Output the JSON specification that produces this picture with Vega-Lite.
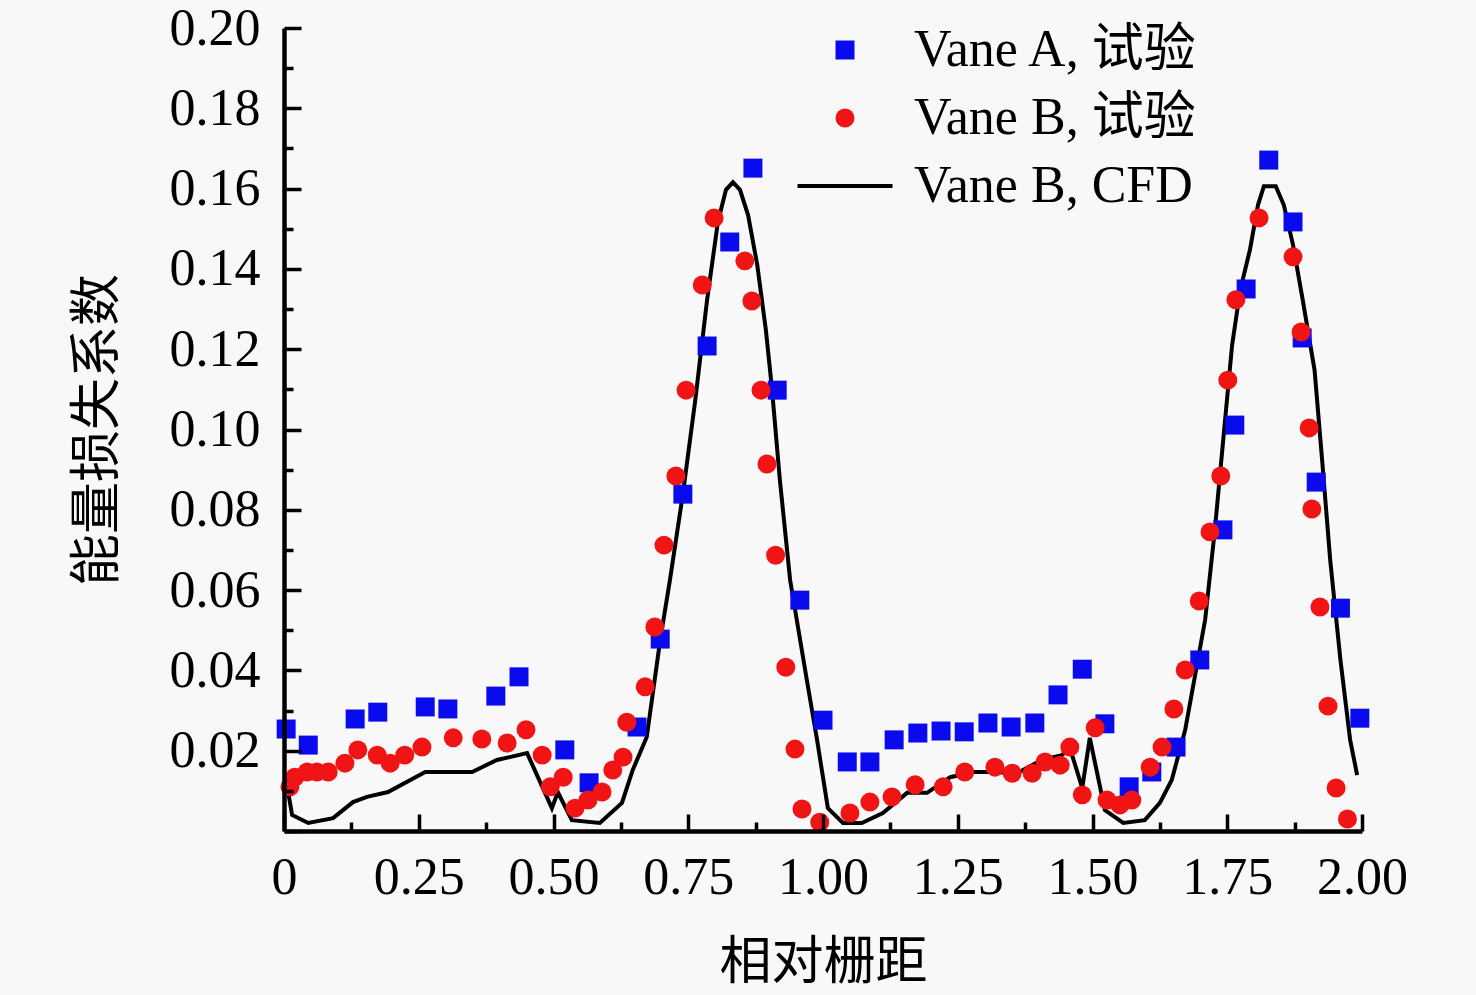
{
  "$schema": "https://vega.github.io/schema/vega-lite/v6.json",
  "width": 1078,
  "height": 803,
  "autosize": "none",
  "padding": {"left": 284, "top": 28, "right": 114, "bottom": 164},
  "background": "#f8f8f8",
  "config": {
    "view": {"stroke": null},
    "font": "Liberation Serif"
  },
  "data": {
    "values": [
      {"series": "Vane A, 试验", "x": 0.004, "y": 0.0254},
      {"series": "Vane A, 试验", "x": 0.045, "y": 0.0214},
      {"series": "Vane A, 试验", "x": 0.132, "y": 0.0279},
      {"series": "Vane A, 试验", "x": 0.174, "y": 0.0296},
      {"series": "Vane A, 试验", "x": 0.262, "y": 0.0309},
      {"series": "Vane A, 试验", "x": 0.304, "y": 0.0304},
      {"series": "Vane A, 试验", "x": 0.393, "y": 0.0336},
      {"series": "Vane A, 试验", "x": 0.436, "y": 0.0384},
      {"series": "Vane A, 试验", "x": 0.521, "y": 0.0202},
      {"series": "Vane A, 试验", "x": 0.566, "y": 0.0120},
      {"series": "Vane A, 试验", "x": 0.655, "y": 0.0259},
      {"series": "Vane A, 试验", "x": 0.698, "y": 0.0478},
      {"series": "Vane A, 试验", "x": 0.740, "y": 0.0839},
      {"series": "Vane A, 试验", "x": 0.785, "y": 0.1208},
      {"series": "Vane A, 试验", "x": 0.827, "y": 0.1467},
      {"series": "Vane A, 试验", "x": 0.870, "y": 0.1651},
      {"series": "Vane A, 试验", "x": 0.915, "y": 0.1098},
      {"series": "Vane A, 试验", "x": 0.957, "y": 0.0575},
      {"series": "Vane A, 试验", "x": 1.000, "y": 0.0276},
      {"series": "Vane A, 试验", "x": 1.045, "y": 0.0172},
      {"series": "Vane A, 试验", "x": 1.087, "y": 0.0172},
      {"series": "Vane A, 试验", "x": 1.132, "y": 0.0227},
      {"series": "Vane A, 试验", "x": 1.176, "y": 0.0244},
      {"series": "Vane A, 试验", "x": 1.219, "y": 0.0249},
      {"series": "Vane A, 试验", "x": 1.262, "y": 0.0247},
      {"series": "Vane A, 试验", "x": 1.306, "y": 0.0269},
      {"series": "Vane A, 试验", "x": 1.349, "y": 0.0259},
      {"series": "Vane A, 试验", "x": 1.393, "y": 0.0269},
      {"series": "Vane A, 试验", "x": 1.436, "y": 0.0339},
      {"series": "Vane A, 试验", "x": 1.481, "y": 0.0403},
      {"series": "Vane A, 试验", "x": 1.523, "y": 0.0267},
      {"series": "Vane A, 试验", "x": 1.568, "y": 0.0110},
      {"series": "Vane A, 试验", "x": 1.610, "y": 0.0147},
      {"series": "Vane A, 试验", "x": 1.655, "y": 0.0209},
      {"series": "Vane A, 试验", "x": 1.699, "y": 0.0426},
      {"series": "Vane A, 试验", "x": 1.742, "y": 0.0750},
      {"series": "Vane A, 试验", "x": 1.764, "y": 0.1011},
      {"series": "Vane A, 试验", "x": 1.785, "y": 0.1350},
      {"series": "Vane A, 试验", "x": 1.827, "y": 0.1671},
      {"series": "Vane A, 试验", "x": 1.872, "y": 0.1517},
      {"series": "Vane A, 试验", "x": 1.889, "y": 0.1228},
      {"series": "Vane A, 试验", "x": 1.915, "y": 0.0869},
      {"series": "Vane A, 试验", "x": 1.960, "y": 0.0555},
      {"series": "Vane A, 试验", "x": 1.996, "y": 0.0281},

      {"series": "Vane B, 试验", "x": 0.011, "y": 0.0110},
      {"series": "Vane B, 试验", "x": 0.020, "y": 0.0134},
      {"series": "Vane B, 试验", "x": 0.043, "y": 0.0147},
      {"series": "Vane B, 试验", "x": 0.061, "y": 0.0147},
      {"series": "Vane B, 试验", "x": 0.082, "y": 0.0147},
      {"series": "Vane B, 试验", "x": 0.113, "y": 0.0169},
      {"series": "Vane B, 试验", "x": 0.137, "y": 0.0202},
      {"series": "Vane B, 试验", "x": 0.173, "y": 0.0189},
      {"series": "Vane B, 试验", "x": 0.197, "y": 0.0169},
      {"series": "Vane B, 试验", "x": 0.224, "y": 0.0189},
      {"series": "Vane B, 试验", "x": 0.256, "y": 0.0209},
      {"series": "Vane B, 试验", "x": 0.314, "y": 0.0232},
      {"series": "Vane B, 试验", "x": 0.367, "y": 0.0229},
      {"series": "Vane B, 试验", "x": 0.414, "y": 0.0219},
      {"series": "Vane B, 试验", "x": 0.449, "y": 0.0252},
      {"series": "Vane B, 试验", "x": 0.479, "y": 0.0189},
      {"series": "Vane B, 试验", "x": 0.494, "y": 0.0110},
      {"series": "Vane B, 试验", "x": 0.518, "y": 0.0134},
      {"series": "Vane B, 试验", "x": 0.540, "y": 0.0057},
      {"series": "Vane B, 试验", "x": 0.564, "y": 0.0077},
      {"series": "Vane B, 试验", "x": 0.590, "y": 0.0097},
      {"series": "Vane B, 试验", "x": 0.610, "y": 0.0152},
      {"series": "Vane B, 试验", "x": 0.629, "y": 0.0184},
      {"series": "Vane B, 试验", "x": 0.636, "y": 0.0271},
      {"series": "Vane B, 试验", "x": 0.670, "y": 0.0359},
      {"series": "Vane B, 试验", "x": 0.688, "y": 0.0508},
      {"series": "Vane B, 试验", "x": 0.705, "y": 0.0712},
      {"series": "Vane B, 试验", "x": 0.727, "y": 0.0884},
      {"series": "Vane B, 试验", "x": 0.746, "y": 0.1098},
      {"series": "Vane B, 试验", "x": 0.776, "y": 0.1360},
      {"series": "Vane B, 试验", "x": 0.798, "y": 0.1527},
      {"series": "Vane B, 试验", "x": 0.855, "y": 0.1420},
      {"series": "Vane B, 试验", "x": 0.868, "y": 0.1320},
      {"series": "Vane B, 试验", "x": 0.885, "y": 0.1098},
      {"series": "Vane B, 试验", "x": 0.896, "y": 0.0914},
      {"series": "Vane B, 试验", "x": 0.912, "y": 0.0687},
      {"series": "Vane B, 试验", "x": 0.931, "y": 0.0408},
      {"series": "Vane B, 试验", "x": 0.948, "y": 0.0204},
      {"series": "Vane B, 试验", "x": 0.961, "y": 0.0055},
      {"series": "Vane B, 试验", "x": 0.994, "y": 0.0022},
      {"series": "Vane B, 试验", "x": 1.050, "y": 0.0045},
      {"series": "Vane B, 试验", "x": 1.087, "y": 0.0072},
      {"series": "Vane B, 试验", "x": 1.128, "y": 0.0085},
      {"series": "Vane B, 试验", "x": 1.171, "y": 0.0115},
      {"series": "Vane B, 试验", "x": 1.223, "y": 0.0110},
      {"series": "Vane B, 试验", "x": 1.263, "y": 0.0147},
      {"series": "Vane B, 试验", "x": 1.319, "y": 0.0159},
      {"series": "Vane B, 试验", "x": 1.351, "y": 0.0144},
      {"series": "Vane B, 试验", "x": 1.388, "y": 0.0144},
      {"series": "Vane B, 试验", "x": 1.412, "y": 0.0172},
      {"series": "Vane B, 试验", "x": 1.440, "y": 0.0164},
      {"series": "Vane B, 试验", "x": 1.458, "y": 0.0209},
      {"series": "Vane B, 试验", "x": 1.481, "y": 0.0090},
      {"series": "Vane B, 试验", "x": 1.505, "y": 0.0257},
      {"series": "Vane B, 试验", "x": 1.527, "y": 0.0077},
      {"series": "Vane B, 试验", "x": 1.551, "y": 0.0065},
      {"series": "Vane B, 试验", "x": 1.573, "y": 0.0077},
      {"series": "Vane B, 试验", "x": 1.607, "y": 0.0159},
      {"series": "Vane B, 试验", "x": 1.629, "y": 0.0209},
      {"series": "Vane B, 试验", "x": 1.651, "y": 0.0304},
      {"series": "Vane B, 试验", "x": 1.672, "y": 0.0401},
      {"series": "Vane B, 试验", "x": 1.698, "y": 0.0573},
      {"series": "Vane B, 试验", "x": 1.718, "y": 0.0745},
      {"series": "Vane B, 试验", "x": 1.738, "y": 0.0884},
      {"series": "Vane B, 试验", "x": 1.751, "y": 0.1123},
      {"series": "Vane B, 试验", "x": 1.766, "y": 0.1323},
      {"series": "Vane B, 试验", "x": 1.809, "y": 0.1527},
      {"series": "Vane B, 试验", "x": 1.872, "y": 0.1430},
      {"series": "Vane B, 试验", "x": 1.887, "y": 0.1243},
      {"series": "Vane B, 试验", "x": 1.902, "y": 0.1004},
      {"series": "Vane B, 试验", "x": 1.907, "y": 0.0802},
      {"series": "Vane B, 试验", "x": 1.922, "y": 0.0558},
      {"series": "Vane B, 试验", "x": 1.937, "y": 0.0311},
      {"series": "Vane B, 试验", "x": 1.952, "y": 0.0107},
      {"series": "Vane B, 试验", "x": 1.973, "y": 0.0030},

      {"series": "Vane B, CFD", "x": 0.000, "y": 0.0120},
      {"series": "Vane B, CFD", "x": 0.006, "y": 0.0110},
      {"series": "Vane B, CFD", "x": 0.015, "y": 0.0040},
      {"series": "Vane B, CFD", "x": 0.045, "y": 0.0020},
      {"series": "Vane B, CFD", "x": 0.091, "y": 0.0032},
      {"series": "Vane B, CFD", "x": 0.128, "y": 0.0072},
      {"series": "Vane B, CFD", "x": 0.154, "y": 0.0085},
      {"series": "Vane B, CFD", "x": 0.193, "y": 0.0097},
      {"series": "Vane B, CFD", "x": 0.262, "y": 0.0147},
      {"series": "Vane B, CFD", "x": 0.349, "y": 0.0147},
      {"series": "Vane B, CFD", "x": 0.395, "y": 0.0177},
      {"series": "Vane B, CFD", "x": 0.451, "y": 0.0194},
      {"series": "Vane B, CFD", "x": 0.497, "y": 0.0057},
      {"series": "Vane B, CFD", "x": 0.508, "y": 0.0097},
      {"series": "Vane B, CFD", "x": 0.534, "y": 0.0027},
      {"series": "Vane B, CFD", "x": 0.586, "y": 0.0020},
      {"series": "Vane B, CFD", "x": 0.627, "y": 0.0070},
      {"series": "Vane B, CFD", "x": 0.647, "y": 0.0152},
      {"series": "Vane B, CFD", "x": 0.673, "y": 0.0234},
      {"series": "Vane B, CFD", "x": 0.698, "y": 0.0476},
      {"series": "Vane B, CFD", "x": 0.716, "y": 0.0625},
      {"series": "Vane B, CFD", "x": 0.740, "y": 0.0839},
      {"series": "Vane B, CFD", "x": 0.763, "y": 0.1073},
      {"series": "Vane B, CFD", "x": 0.785, "y": 0.1323},
      {"series": "Vane B, CFD", "x": 0.805, "y": 0.1517},
      {"series": "Vane B, CFD", "x": 0.820, "y": 0.1597},
      {"series": "Vane B, CFD", "x": 0.833, "y": 0.1616},
      {"series": "Vane B, CFD", "x": 0.846, "y": 0.1597},
      {"series": "Vane B, CFD", "x": 0.861, "y": 0.1534},
      {"series": "Vane B, CFD", "x": 0.878, "y": 0.1410},
      {"series": "Vane B, CFD", "x": 0.894, "y": 0.1248},
      {"series": "Vane B, CFD", "x": 0.905, "y": 0.1106},
      {"series": "Vane B, CFD", "x": 0.920, "y": 0.0874},
      {"series": "Vane B, CFD", "x": 0.939, "y": 0.0625},
      {"series": "Vane B, CFD", "x": 0.970, "y": 0.0376},
      {"series": "Vane B, CFD", "x": 0.989, "y": 0.0227},
      {"series": "Vane B, CFD", "x": 1.009, "y": 0.0057},
      {"series": "Vane B, CFD", "x": 1.037, "y": 0.0020},
      {"series": "Vane B, CFD", "x": 1.072, "y": 0.0020},
      {"series": "Vane B, CFD", "x": 1.111, "y": 0.0045},
      {"series": "Vane B, CFD", "x": 1.156, "y": 0.0095},
      {"series": "Vane B, CFD", "x": 1.193, "y": 0.0095},
      {"series": "Vane B, CFD", "x": 1.236, "y": 0.0134},
      {"series": "Vane B, CFD", "x": 1.278, "y": 0.0147},
      {"series": "Vane B, CFD", "x": 1.315, "y": 0.0147},
      {"series": "Vane B, CFD", "x": 1.360, "y": 0.0144},
      {"series": "Vane B, CFD", "x": 1.406, "y": 0.0177},
      {"series": "Vane B, CFD", "x": 1.443, "y": 0.0189},
      {"series": "Vane B, CFD", "x": 1.458, "y": 0.0207},
      {"series": "Vane B, CFD", "x": 1.481, "y": 0.0107},
      {"series": "Vane B, CFD", "x": 1.495, "y": 0.0232},
      {"series": "Vane B, CFD", "x": 1.523, "y": 0.0052},
      {"series": "Vane B, CFD", "x": 1.557, "y": 0.0020},
      {"series": "Vane B, CFD", "x": 1.597, "y": 0.0027},
      {"series": "Vane B, CFD", "x": 1.625, "y": 0.0070},
      {"series": "Vane B, CFD", "x": 1.647, "y": 0.0127},
      {"series": "Vane B, CFD", "x": 1.672, "y": 0.0252},
      {"series": "Vane B, CFD", "x": 1.709, "y": 0.0526},
      {"series": "Vane B, CFD", "x": 1.727, "y": 0.0750},
      {"series": "Vane B, CFD", "x": 1.746, "y": 0.1024},
      {"series": "Vane B, CFD", "x": 1.759, "y": 0.1210},
      {"series": "Vane B, CFD", "x": 1.774, "y": 0.1347},
      {"series": "Vane B, CFD", "x": 1.792, "y": 0.1447},
      {"series": "Vane B, CFD", "x": 1.807, "y": 0.1559},
      {"series": "Vane B, CFD", "x": 1.818, "y": 0.1606},
      {"series": "Vane B, CFD", "x": 1.840, "y": 0.1606},
      {"series": "Vane B, CFD", "x": 1.855, "y": 0.1559},
      {"series": "Vane B, CFD", "x": 1.872, "y": 0.1460},
      {"series": "Vane B, CFD", "x": 1.890, "y": 0.1323},
      {"series": "Vane B, CFD", "x": 1.912, "y": 0.1148},
      {"series": "Vane B, CFD", "x": 1.926, "y": 0.0924},
      {"series": "Vane B, CFD", "x": 1.941, "y": 0.0675},
      {"series": "Vane B, CFD", "x": 1.960, "y": 0.0426},
      {"series": "Vane B, CFD", "x": 1.978, "y": 0.0227},
      {"series": "Vane B, CFD", "x": 1.991, "y": 0.0139}
    ]
  },
  "layer": [
    {
      "transform": [{"filter": "datum.series === 'Vane B, CFD'"}],
      "mark": {"type": "line", "color": "black", "strokeWidth": 4, "clip": true},
      "encoding": {
        "x": {
          "field": "x",
          "type": "quantitative",
          "scale": {"domain": [0, 2], "nice": false, "zero": false},
          "axis": {
            "orient": "bottom",
            "zindex": 1,
            "values": [0, 0.25, 0.5, 0.75, 1, 1.25, 1.5, 1.75, 2],
            "labelExpr": "datum.value === 0 ? '0' : format(datum.value, '.2f')",
            "grid": false,
            "domainColor": "black",
            "domainWidth": 4.5,
            "tickColor": "black",
            "tickWidth": 3.5,
            "tickSize": -17,
            "labelPadding": 38,
            "labelFont": "Liberation Serif",
            "labelFontSize": 52,
            "labelColor": "black",
            "labelFlush": false,
            "labelOverlap": false,
            "title": "相对栅距",
            "titleFont": "Noto Sans CJK SC",
            "titleFontSize": 52,
            "titleFontWeight": "normal",
            "titleColor": "black",
            "titlePadding": 34
          }
        },
        "y": {
          "field": "y",
          "type": "quantitative",
          "scale": {"domain": [0, 0.2], "nice": false},
          "axis": {
            "orient": "left",
            "zindex": 1,
            "values": [0, 0.02, 0.04, 0.06, 0.08, 0.1, 0.12, 0.14, 0.16, 0.18, 0.2],
            "labelExpr": "datum.value === 0 ? '' : format(datum.value, '.2f')",
            "grid": false,
            "domainColor": "black",
            "domainWidth": 4.5,
            "tickColor": "black",
            "tickWidth": 3.5,
            "tickSize": -17,
            "labelPadding": 41,
            "labelFont": "Liberation Serif",
            "labelFontSize": 52,
            "labelColor": "black",
            "labelFlush": false,
            "labelOverlap": false,
            "title": "能量损失系数",
            "titleFont": "Noto Sans CJK SC",
            "titleFontSize": 52,
            "titleFontWeight": "normal",
            "titleColor": "black",
            "titlePadding": 45
          }
        }
      }
    },
    {
      "transform": [{"filter": "datum.series !== 'Vane B, CFD'"}],
      "mark": {"type": "point", "filled": true, "opacity": 1, "size": 360},
      "encoding": {
        "x": {
          "field": "x",
          "type": "quantitative",
          "axis": {
            "orient": "bottom",
            "zindex": 1,
            "values": [0.125, 0.375, 0.625, 0.875, 1.125, 1.375, 1.625, 1.875],
            "labels": false,
            "domain": false,
            "grid": false,
            "tickColor": "black",
            "tickWidth": 3.5,
            "tickSize": -9,
            "title": null
          }
        },
        "y": {
          "field": "y",
          "type": "quantitative",
          "axis": {
            "orient": "left",
            "zindex": 1,
            "values": [0.01, 0.03, 0.05, 0.07, 0.09, 0.11, 0.13, 0.15, 0.17, 0.19],
            "labels": false,
            "domain": false,
            "grid": false,
            "tickColor": "black",
            "tickWidth": 3.5,
            "tickSize": -9,
            "title": null
          }
        },
        "color": {
          "field": "series",
          "type": "nominal",
          "scale": {
            "domain": ["Vane A, 试验", "Vane B, 试验", "Vane B, CFD"],
            "range": ["#0a0aee", "#f01414", "#000000"]
          },
          "legend": {
            "title": null,
            "orient": "none",
            "legendX": 535,
            "legendY": -4,
            "padding": 0,
            "symbolSize": 361,
            "symbolStrokeWidth": 0,
            "labelFont": "Liberation Serif, Noto Sans CJK SC",
            "labelFontSize": 52,
            "labelColor": "black",
            "labelOffset": 43,
            "labelLimit": 0,
            "rowPadding": 16
          }
        },
        "shape": {
          "field": "series",
          "type": "nominal",
          "scale": {
            "domain": ["Vane A, 试验", "Vane B, 试验", "Vane B, CFD"],
            "range": ["square", "circle", "M-5,-0.21H5V0.21H-5Z"]
          },
          "legend": {
            "title": null,
            "orient": "none",
            "legendX": 535,
            "legendY": -4,
            "padding": 0,
            "symbolSize": 361,
            "symbolStrokeWidth": 0,
            "labelFont": "Liberation Serif, Noto Sans CJK SC",
            "labelFontSize": 52,
            "labelColor": "black",
            "labelOffset": 43,
            "labelLimit": 0,
            "rowPadding": 16
          }
        }
      }
    }
  ],
  "resolve": {"axis": {"x": "independent", "y": "independent"}}
}
